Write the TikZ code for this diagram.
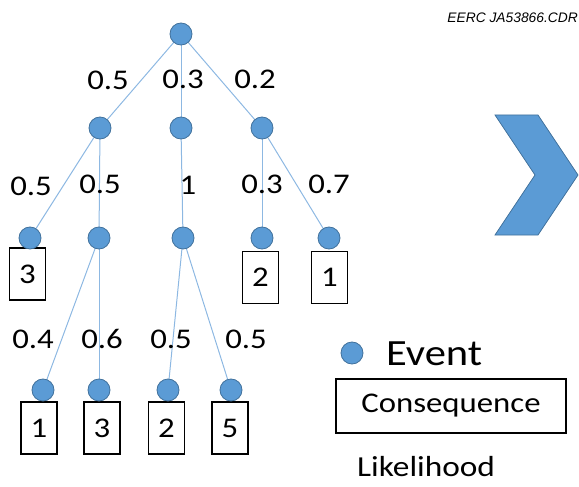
\documentclass[tikz,border=0pt]{standalone}
\usepackage{fontspec}
\setmainfont{Carlito}[FakeStretch=1.15]
\newfontfamily\titlefont{Liberation Sans}
\definecolor{evfill}{HTML}{5B9BD5}
\definecolor{evdraw}{HTML}{41719C}
\definecolor{edgec}{HTML}{8DB8E2}
\tikzset{
  ev/.style={circle, fill=evfill, draw=evdraw, line width=0.8pt, minimum size=22pt, inner sep=0pt},
  cons/.style={draw=black, line width=1.3pt, fill=white, minimum width=36pt, minimum height=52pt, inner sep=0pt, font=\fontsize{28.5}{30}\selectfont},
  lik/.style={font=\fontsize{28.5}{30}\selectfont, inner sep=0pt, text=black},
  edge/.style={draw=edgec, line width=1pt},
}
\begin{document}
\begin{tikzpicture}[x=1pt,y=-1pt]
\useasboundingbox (0,0) rectangle (579,487);
% title
\node[anchor=east, font=\titlefont\itshape\fontsize{13.8}{15}\selectfont, inner sep=0pt] (title) at (578,18) {EERC JA53866.CDR};
% boxes (drawn under the event circles)
\node[cons] (c3a) at (27.5,274) {3};
\node[cons] (c2a) at (260.5,277.5) {2};
\node[cons] (c1a) at (329.5,277.5) {1};
\node[cons] (c1b) at (39,428) {1};
\node[cons] (c3b) at (102,428) {3};
\node[cons] (c2b) at (166.5,428) {2};
\node[cons] (c5b) at (230,428) {5};
% event coordinates
\coordinate (r) at (181,34);
\coordinate (a) at (100,128);
\coordinate (b) at (181,128);
\coordinate (c) at (262,128);
\coordinate (aa) at (30,238);
\coordinate (ab) at (99,238);
\coordinate (ba) at (183,238);
\coordinate (ca) at (262,238);
\coordinate (cb) at (329,238);
\coordinate (aba) at (43,390);
\coordinate (abb) at (99,390);
\coordinate (baa) at (168,390);
\coordinate (bab) at (231,390);
% edges
\draw[edge] (r) -- (a);
\draw[edge] (r) -- (b);
\draw[edge] (r) -- (c);
\draw[edge] (a) -- (aa);
\draw[edge] (a) -- (ab);
\draw[edge] (b) -- (ba);
\draw[edge] (c) -- (ca);
\draw[edge] (c) -- (cb);
\draw[edge] (ab) -- (aba);
\draw[edge] (ab) -- (abb);
\draw[edge] (ba) -- (baa);
\draw[edge] (ba) -- (bab);
% event nodes
\foreach \n in {r,a,b,c,aa,ab,ba,ca,cb,aba,abb,baa,bab}
  \node[ev] (n\n) at (\n) {};
% likelihood labels
\node[lik] (l1) at (108,80) {0.5};
\node[lik] (l2) at (183,79) {0.3};
\node[lik] (l3) at (255,79) {0.2};
\node[lik] (l4) at (31,186) {0.5};
\node[lik] (l5) at (100,184) {0.5};
\node[lik] (l6) at (188,185) {1};
\node[lik] (l7) at (262,184) {0.3};
\node[lik] (l8) at (329,184) {0.7};
\node[lik] (l9) at (33,339) {0.4};
\node[lik] (l10) at (102,339) {0.6};
\node[lik] (l11) at (171,339) {0.5};
\node[lik] (l12) at (246,339) {0.5};
% chevron
\filldraw[fill=evfill, draw=evdraw, line width=0.8pt] (495,115) -- (538,115) -- (578,175) -- (538,235) -- (495,235) -- (535,175) -- cycle;
% legend
\node[ev] (legev) at (352,353) {};
\node[anchor=west, inner sep=0pt, font=\fontsize{37}{39}\selectfont] (legevt) at (386,354) {Event};
\node[draw=black, line width=1.3pt, minimum width=230pt, minimum height=54pt, inner sep=0pt, font=\fontsize{28.5}{30}\selectfont] (legcons) at (451,406) {Consequence};
\node[anchor=west, inner sep=0pt, font=\fontsize{29}{31}\selectfont] (leglik) at (357,467) {Likelihood};
\end{tikzpicture}
\end{document}
